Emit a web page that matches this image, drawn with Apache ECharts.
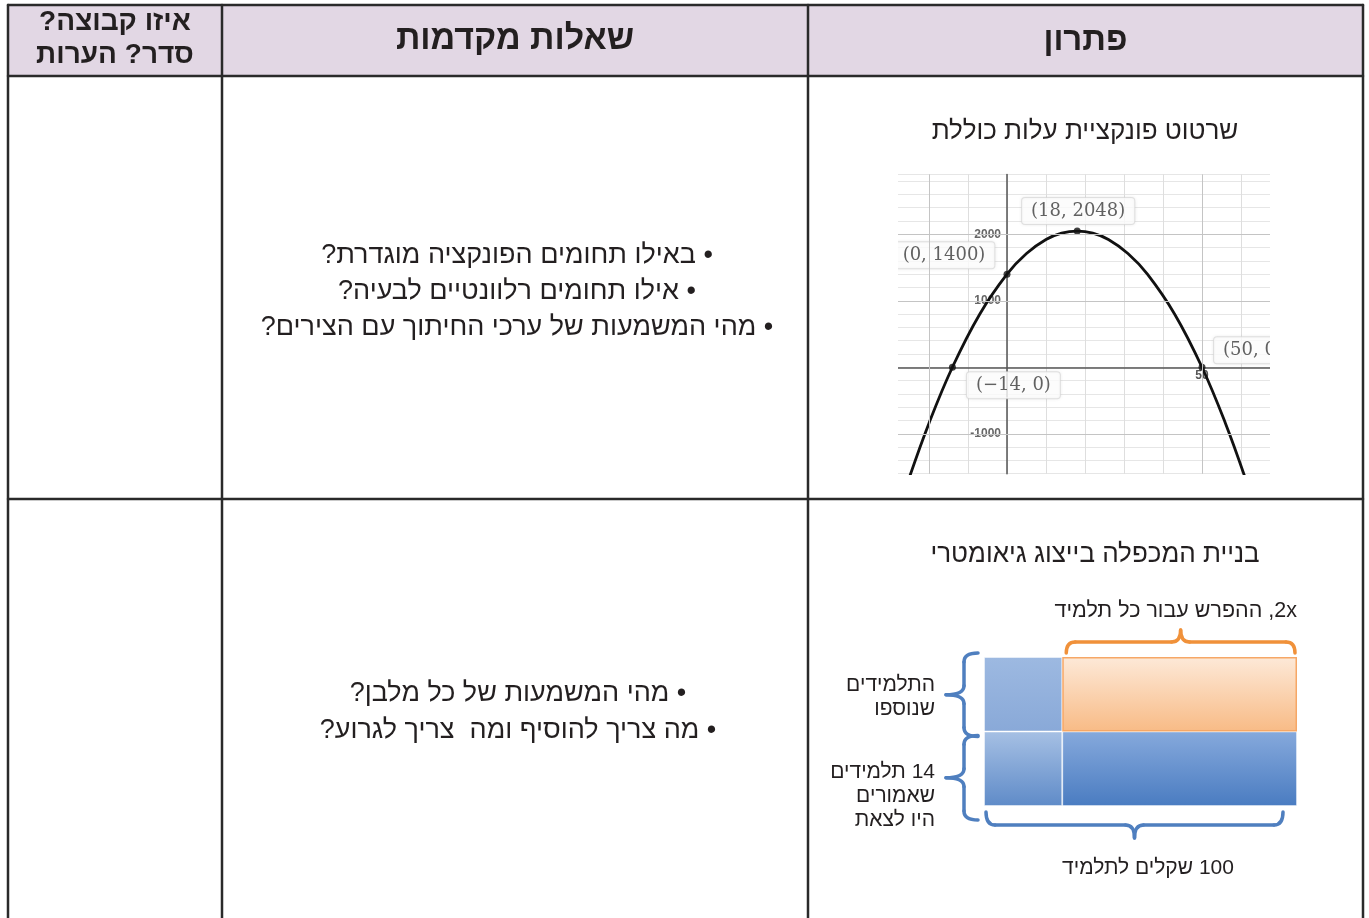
<!DOCTYPE html>
<html lang="he">
<head>
<meta charset="UTF-8">
<title>פתרון - שאלות מקדמות</title>
<script src="https://cdn.jsdelivr.net/npm/echarts@6/dist/echarts.min.js"></script>
<style>
  html, body { margin: 0; padding: 0; background: #fff; }
  #main { width: 1369px; height: 918px; }
</style>
</head>
<body>
<div id="main"></div>
<script>
// ---- data ----
const headers = ['איזו קבוצה?\nסדר? הערות', 'שאלות מקדמות', 'פתרון'];
const rowTitles = ['שרטוט פונקציית עלות כוללת', 'בניית המכפלה בייצוג גיאומטרי'];
const questions1 = ['• באילו תחומים הפונקציה מוגדרת?', '• אילו תחומים רלוונטיים לבעיה?', '• מהי המשמעות של ערכי החיתוך עם הצירים?'];
const questions2 = ['• מהי המשמעות של כל מלבן?', '• מה צריך להוסיף ומה  צריך לגרוע?'];

// points
const curveX = [-25, -20, -14, -7, 0, 5, 10, 14, 18, 22, 26, 31, 36, 43, 50, 56, 61];
const curveY = [-1650, -840, 0, 798, 1400, 1710, 1920, 2016, 2048, 2016, 1920, 1710, 1400, 798, 0, -840, -1650];
const keyX = [-14, 0, 18, 50];
const keyY = [0, 1400, 2048, 0];
const keyLabels = ['(−14, 0)', '(0, 1400)', '(18, 2048)', '(50, 0)'];
const yLabelTicks = [-1000, 1000, 2000];
const xLabelTicks = [50];

// area model rows (bottom to top) and widths
const areaRows = ['14 תלמידים שאמורים היו לצאת', 'התלמידים שנוספו'];
const leftPart = [25, 25];
const rightPart = [75, 75];
const areaTexts = {
  top: '2x, ההפרש עבור כל תלמיד',
  added: 'התלמידים\nשנוספו',
  base: '14 תלמידים\nשאמורים\nהיו לצאת',
  bottom: '100 שקלים לתלמיד'
};

// ---- layout ----
const L = 8, R = 1363, T = 5, HB = 76, RB = 499, C1 = 222, C2 = 808, B = 930;
const g1 = { left: 890, top: 174.4, width: 390, height: 299.3 };
const xExt = [-30, 70], yExt = [-1600, 2900];
const g2 = { left: 984, top: 657, width: 313, height: 149 };
const labelOffsets = [[61, 18], [-63, -19], [1, -20], [51, -17]];
const lineColor = '#2a2a2a';
const txtColor = '#231f20';
const font = 'Liberation Sans, Arimo, DejaVu Sans, sans-serif';

// axes sit at the zero of the other axis
const yAxisShift = -(0 - xExt[0]) / (xExt[1] - xExt[0]) * g1.width;
const xAxisShift = -(0 - yExt[0]) / (yExt[1] - yExt[0]) * g1.height;

const rtl = s => s.split('\n').map(l => '\u202B' + l + '\u202C').join('\n');

function text(x, y, s, size, opt) {
  opt = opt || {};
  return {
    type: 'text', x: x, y: y, z: 10,
    style: {
      text: rtl(s), fontSize: size, fontFamily: font,
      fontWeight: opt.bold ? 'bold' : 'normal', fill: opt.color || txtColor,
      align: opt.align || 'center', verticalAlign: 'middle',
      lineHeight: opt.lh || size * 1.2
    }
  };
}
function line(x1, y1, x2, y2, w, c) {
  return { type: 'line', z: 10, shape: { x1, y1, x2, y2 }, style: { stroke: c || lineColor, lineWidth: w || 2.5, lineCap: 'round' } };
}
function curve(x1, y1, cx, cy, x2, y2, c) {
  return { type: 'bezierCurve', z: 10, shape: { x1, y1, cpx1: cx, cpy1: cy, x2, y2 }, style: { stroke: c, lineWidth: 3.5, fill: null, lineCap: 'round' } };
}
function grad(a, b) {
  return { type: 'linear', x: 0, y: 0, x2: 0, y2: 1, colorStops: [{ offset: 0, color: a }, { offset: 1, color: b }] };
}

// curly braces around the area model
function hBrace(x1, x2, yl, ye, yt, c) {
  const xc = (x1 + x2) / 2, r = 9;
  return [
    curve(x1, ye, x1, yl, x1 + r, yl, c), line(x1 + r, yl, xc - r, yl, 3.5, c),
    curve(xc - r, yl, xc, yl, xc, yt, c), curve(xc, yt, xc, yl, xc + r, yl, c),
    line(xc + r, yl, x2 - r, yl, 3.5, c), curve(x2 - r, yl, x2, yl, x2, ye, c)
  ];
}
function vBrace(y1, y2, xl, xe, xt, c) {
  const yc = (y1 + y2) / 2, r = 9;
  return [
    curve(xe, y1, xl, y1, xl, y1 + r, c), line(xl, y1 + r, xl, yc - r, 3.5, c),
    curve(xl, yc - r, xl, yc, xt, yc, c), curve(xt, yc, xl, yc, xl, yc + r, c),
    line(xl, yc + r, xl, y2 - r, 3.5, c), curve(xl, y2 - r, xl, y2, xe, y2, c)
  ];
}

const gx0 = g2.left, gx1 = g2.left + g2.width, gy0 = g2.top, gy1 = g2.top + g2.height;
const xs = gx0 + g2.width * leftPart[0] / 100;
const ym = gy0 + g2.height / 2;
const orange = '#f0913a', blue = '#4f7fbf';

const graphics = [
  { type: 'rect', z: 0, shape: { x: L, y: T, width: R - L, height: HB - T }, style: { fill: '#e2d7e4' } },
  line(L, T, R, T), line(L, HB, R, HB), line(L, RB, R, RB),
  line(L, T, L, B), line(C1, T, C1, B), line(C2, T, C2, B), line(R, T, R, B),
  text((L + C1) / 2, 39, headers[0], 28, { bold: true, lh: 33 }),
  text((C1 + C2) / 2, 40, headers[1], 34, { bold: true }),
  text((C2 + R) / 2, 41, headers[2], 33, { bold: true }),
  text(1085, 132, rowTitles[0], 26),
  text(1095, 555, rowTitles[1], 26),
  text(517, 292, questions1.join('\n'), 27, { lh: 36 }),
  text(518, 712, questions2.join('\n'), 27, { lh: 37 }),
  // masks trimming the plot picture edges
  { type: 'rect', z: 100, shape: { x: 880, y: 170, width: 18, height: 310 }, style: { fill: '#fff' } },
  { type: 'rect', z: 100, shape: { x: 1270, y: 170, width: 34, height: 310 }, style: { fill: '#fff' } },
  // area model annotations
  text(gx1, 611, areaTexts.top, 21.5, { align: 'right' }),
  text(935, 697, areaTexts.added, 21, { align: 'right', lh: 24 }),
  text(935, 796, areaTexts.base, 21, { align: 'right', lh: 24 }),
  text(1148, 868, areaTexts.bottom, 21)
].concat(
  hBrace(xs + 4, gx1 - 2, gy0 - 15, gy0 - 4, gy0 - 27, orange),
  vBrace(gy0 - 4, ym + 5, gx0 - 20, gx0 - 6, gx0 - 38, blue),
  vBrace(ym + 4, gy1 + 14, gx0 - 20, gx0 - 6, gx0 - 38, blue),
  hBrace(gx0 + 2, gx1 - 14, gy1 + 19, gy1 + 6, gy1 + 32, blue)
);

const chart = echarts.init(document.getElementById('main'));
window.addEventListener('resize', () => chart.resize());

const option = {
  animation: false,
  backgroundColor: '#fff',
  graphic: { elements: graphics },
  grid: [
    Object.assign({ containLabel: false }, g1),
    Object.assign({ containLabel: false }, g2)
  ],
  xAxis: [
    {
      type: 'value', gridIndex: 0, min: xExt[0], max: xExt[1], interval: 10,
      position: 'bottom', offset: xAxisShift,
      axisLine: { onZero: false, lineStyle: { color: '#555', width: 1.5 } },
      axisTick: { show: false },
      axisLabel: {
        fontSize: 12, fontWeight: 'bold', color: '#555', margin: 2,
        fontFamily: 'Liberation Sans, sans-serif',
        formatter: v => (xLabelTicks.includes(v) ? String(v) : '')
      },
      splitLine: { lineStyle: { color: '#dedede', width: 1 } }
    },
    { type: 'value', gridIndex: 1, min: 0, max: 100, show: false }
  ],
  yAxis: [
    {
      type: 'value', gridIndex: 0, min: yExt[0], max: yExt[1], interval: 200,
      position: 'left', offset: yAxisShift,
      axisLine: { onZero: false, lineStyle: { color: '#555', width: 1.5 } },
      axisTick: { show: false },
      axisLabel: {
        fontSize: 12, fontWeight: 'bold', color: '#666', margin: 6,
        fontFamily: 'Liberation Sans, sans-serif',
        formatter: v => (yLabelTicks.includes(v) ? String(v) : '')
      },
      splitLine: { lineStyle: { color: '#e6e6e6', width: 1 } }
    },
    { type: 'category', gridIndex: 1, data: areaRows, show: false }
  ],
  series: [
    {
      type: 'line', xAxisIndex: 0, yAxisIndex: 0,
      data: curveX.map((x, i) => [x, curveY[i]]),
      smooth: 0.4, showSymbol: false,
      lineStyle: { color: '#111', width: 2.8 },
      markLine: {
        silent: true, symbol: 'none', label: { show: false },
        lineStyle: { color: '#c4c4c4', type: 'solid', width: 1 },
        data: [{ yAxis: 2000 }, { yAxis: 1000 }, { yAxis: -1000 }, { xAxis: 50 }, { xAxis: -20 }]
      },
      z: 3
    },
    {
      type: 'scatter', xAxisIndex: 0, yAxisIndex: 0,
      symbolSize: 7, itemStyle: { color: '#111' }, z: 4,
      data: keyX.map((x, i) => ({
        value: [x, keyY[i]],
        label: { offset: labelOffsets[i] }
      })),
      label: {
        show: true, position: 'inside',
        formatter: p => keyLabels[p.dataIndex],
        fontFamily: 'DejaVu Serif, Liberation Serif, serif', fontSize: 18, color: '#3a3a3a',
        backgroundColor: '#fff', borderColor: '#dedede', borderWidth: 1, borderRadius: 3,
        padding: [4, 9],
        shadowColor: 'rgba(0,0,0,0.08)', shadowBlur: 3
      }
    },
    {
      type: 'bar', xAxisIndex: 1, yAxisIndex: 1, stack: 'area',
      barWidth: '100%', barCategoryGap: '0%',
      data: leftPart.map((v, i) => ({
        value: v,
        itemStyle: { color: i === 0 ? grad('#a6c0e4', '#5f8bc8') : grad('#9db9e1', '#89a9d8') }
      })),
      itemStyle: { borderColor: 'rgba(255,255,255,0.45)', borderWidth: 1 }
    },
    {
      type: 'bar', xAxisIndex: 1, yAxisIndex: 1, stack: 'area',
      barWidth: '100%', barCategoryGap: '0%',
      data: rightPart.map((v, i) => ({
        value: v,
        itemStyle: i === 0
          ? { color: grad('#86a9dc', '#4a7cc1'), borderColor: 'rgba(255,255,255,0.4)', borderWidth: 1 }
          : { color: grad('#fde9d8', '#f8bb86'), borderColor: '#f6a766', borderWidth: 1.5 }
      }))
    }
  ]
};

chart.setOption(option);
</script>
</body>
</html>
